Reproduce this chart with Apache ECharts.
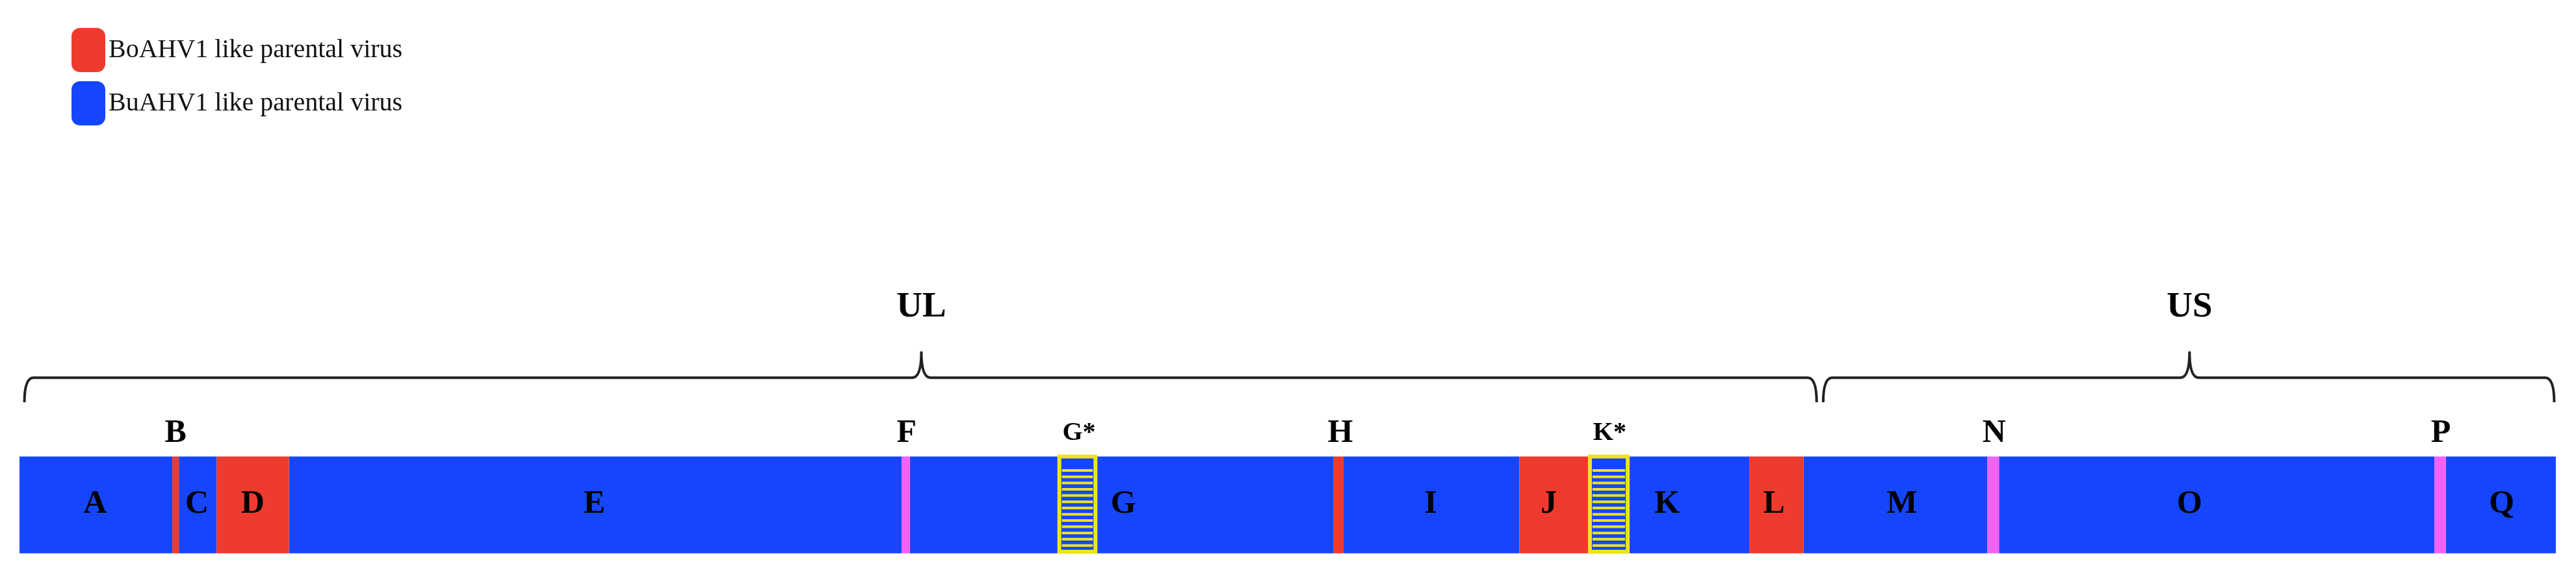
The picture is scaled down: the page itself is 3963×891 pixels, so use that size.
<!DOCTYPE html>
<html>
<head>
<meta charset="utf-8">
<script src="https://cdn.jsdelivr.net/npm/echarts@6/dist/echarts.min.js"></script>
<style>html,body{margin:0;background:#fff}#main{width:3963px;height:891px}</style>
</head>
<body>
<div id="main"></div>
<script>
// Genome segments (position units along the genome map)
const segNames  = ['A','B','C','D','E','F','G','H','I','J','K','L','M','N','O','P','Q'];
const segStarts = [12, 105, 109, 132, 176, 549, 554, 812, 818, 925, 967, 1065, 1098, 1210, 1217, 1482, 1489];
const segEnds   = [105, 109, 132, 176, 549, 554, 812, 818, 925, 967, 1065, 1098, 1210, 1217, 1482, 1489, 1556];
const segTypes  = ['Bu','Bo','Bu','Bo','Bu','X','Bu','Bo','Bu','Bo','Bu','Bo','Bu','X','Bu','X','Bu'];

// Labels inside the bar
const innerLabels = ['A','C','D','E','G','I','J','K','L','M','O','Q'];
const innerPos    = [58, 120, 154, 362, 684, 871, 943, 1015, 1080, 1158, 1333, 1523];

// Labels above the bar
const topLabels = ['B','F','G*','H','K*','N','P'];
const topPos    = [107, 552, 657, 816, 980, 1214, 1486];

// Hatched regions
const hatchStarts = [645, 968];
const hatchEnds   = [667, 991];

// Region braces
const regionNames  = ['UL', 'US'];
const regionStarts = [15, 1110];
const regionEnds   = [1106, 1555];
const regionMids   = [561, 1333];

const BLUE = '#1546fb', RED = '#ef3b2d', MAG = '#f263f5', YEL = '#efe31d';
const BAR_TOP = 278, BAR_BOT = 337;

const chart = echarts.init(document.getElementById('main'));

function segData(type) {
    const out = [];
    segStarts.forEach((s, i) => { if (segTypes[i] === type) out.push([s, segEnds[i]]); });
    return out;
}

function rectItem(color) {
    return function (params, api) {
        const p1 = api.coord([api.value(0), BAR_TOP]);
        const p2 = api.coord([api.value(1), BAR_BOT]);
        return { type: 'rect', shape: { x: p1[0], y: p1[1], width: p2[0] - p1[0], height: p2[1] - p1[1] },
                 style: { fill: color } };
    };
}

const font = 'Liberation Serif';

chart.setOption({
    animation: false,
    grid: { left: 30, right: 31, top: 0, bottom: 0 },
    xAxis: { type: 'value', min: 12, max: 1556, show: false },
    yAxis: { type: 'value', min: 0, max: 352.6, inverse: true, show: false },
    legend: {
        orient: 'vertical', left: 105, top: 38, itemWidth: 52, itemHeight: 68, itemGap: 14,
        data: ['BoAHV1 like parental virus', 'BuAHV1 like parental virus'],
        textStyle: { fontFamily: font, fontSize: 40, color: '#111' }
    },
    series: [
        { name: 'BuAHV1 like parental virus', type: 'custom', renderItem: rectItem(BLUE),
          itemStyle: { color: BLUE }, data: segData('Bu') },
        { name: 'BoAHV1 like parental virus', type: 'custom', renderItem: rectItem(RED),
          itemStyle: { color: RED }, data: segData('Bo') },
        { name: 'other', type: 'custom', renderItem: rectItem(MAG), data: segData('X') },
        {   // hatched boxes
            type: 'custom',
            data: hatchStarts.map((s, i) => [s, hatchEnds[i]]),
            renderItem: (params, api) => {
                const p1 = api.coord([api.value(0), BAR_TOP]);
                const p2 = api.coord([api.value(1), BAR_BOT - 1]);
                const w = p2[0] - p1[0], h = p2[1] - p1[1];
                const children = [];
                for (let k = 1; k <= 13; k++) {
                    const y = p1[1] + 8 + k * (h - 12) / 14 + 4;
                    children.push({ type: 'line', shape: { x1: p1[0] + 4, y1: y, x2: p2[0] - 4, y2: y },
                                    style: { stroke: YEL, lineWidth: 4 } });
                }
                children.push({ type: 'rect', shape: { x: p1[0], y: p1[1], width: w, height: h },
                                style: { fill: null, stroke: YEL, lineWidth: 6 } });
                return { type: 'group', children };
            }
        },
        {   // labels inside the bar
            type: 'custom',
            data: innerPos.map((x, i) => [x, innerLabels[i]]),
            renderItem: (params, api) => {
                const p = api.coord([api.value(0), 307]);
                return { type: 'text', x: p[0], y: p[1],
                         style: { text: innerLabels[params.dataIndex], fontFamily: font, fontWeight: 'bold',
                                  fontSize: 50, fill: '#000', align: 'center', verticalAlign: 'middle' } };
            }
        },
        {   // labels above the bar
            type: 'custom',
            data: topPos.map((x, i) => [x, topLabels[i]]),
            renderItem: (params, api) => {
                const lab = topLabels[params.dataIndex];
                const p = api.coord([api.value(0), 264]);
                return { type: 'text', x: p[0], y: p[1],
                         style: { text: lab, fontFamily: font, fontWeight: 'bold',
                                  fontSize: lab.length > 1 ? 40 : 50, fill: '#000',
                                  align: 'center', verticalAlign: 'middle' } };
            }
        },
        {   // braces with region names
            type: 'custom',
            data: regionStarts.map((s, i) => [s, regionEnds[i], regionMids[i]]),
            renderItem: (params, api) => {
                const x1 = api.coord([api.value(0), 245]);
                const x2 = api.coord([api.value(1), 245]);
                const top = api.coord([api.value(2), 230])[1];
                const tip = api.coord([api.value(2), 214]);
                const bot = x1[1];
                const r = 14;
                const d = `M${x1[0]},${bot} Q${x1[0]},${top} ${x1[0] + r},${top} ` +
                          `L${tip[0] - r},${top} Q${tip[0]},${top} ${tip[0]},${tip[1]} ` +
                          `Q${tip[0]},${top} ${tip[0] + r},${top} L${x2[0] - r},${top} ` +
                          `Q${x2[0]},${top} ${x2[0]},${bot}`;
                const lp = api.coord([api.value(2), 187]);
                return { type: 'group', children: [
                    { type: 'path', shape: { pathData: d }, style: { fill: null, stroke: '#222', lineWidth: 4 } },
                    { type: 'text', x: lp[0], y: lp[1],
                      style: { text: regionNames[params.dataIndex], fontFamily: font, fontWeight: 'bold',
                               fontSize: 55, fill: '#000', align: 'center', verticalAlign: 'middle' } }
                ] };
            }
        }
    ]
});
</script>
</body>
</html>
